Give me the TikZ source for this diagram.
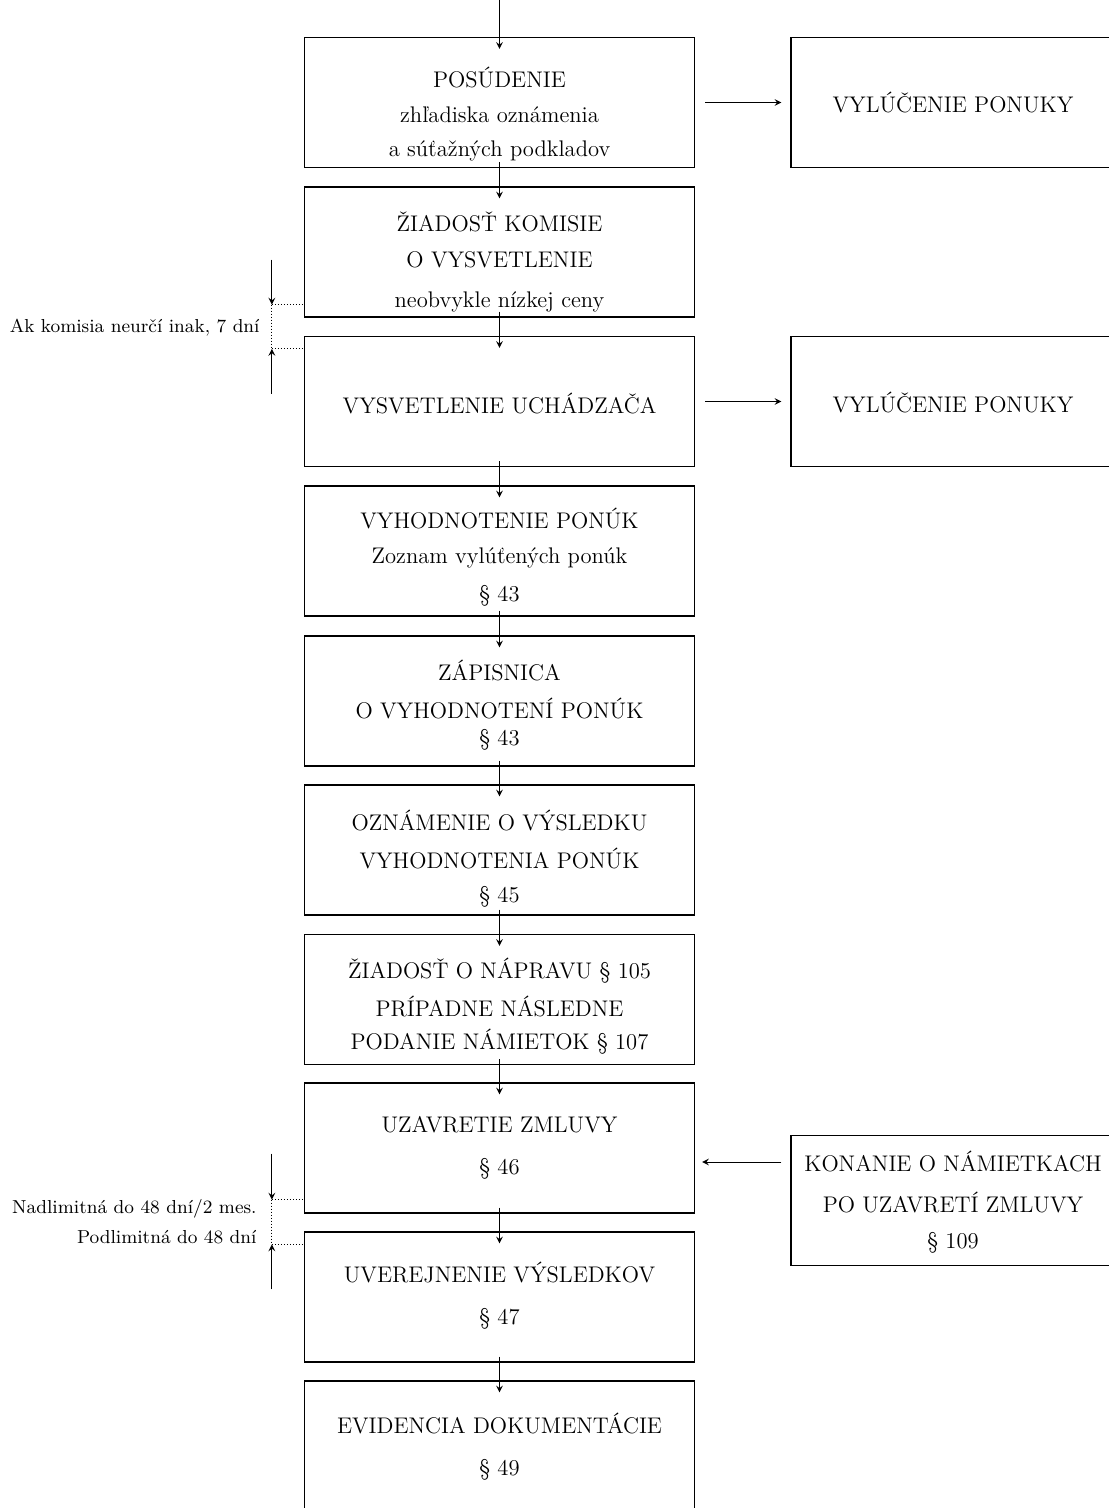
\documentclass[tikz,border=0pt]{standalone}
\usetikzlibrary{positioning}
\tikzset{
  stage/.style={draw, line width=0.6pt, minimum width=195pt, minimum height=65pt, align=center, inner sep=0pt,
    font=\fontsize{11.3}{13.5}\selectfont, text depth=0pt, text height=#1},
  stage/.default=11.5pt,
  sidebox/.style={stage=#1, minimum width=162pt},
  sidebox/.default=10.5pt,
  note/.style={font=\fontsize{9.4}{11.5}\selectfont, align=right, anchor=base east, inner sep=0pt},
}
\begin{document}
\begin{tikzpicture}[x=0.5pt, y=-0.5pt]
      \useasboundingbox (0,0) rectangle (1108,1508);
      \coordinate (vstup) at (499.5,0);
      \draw
        (499.5,102.5) node[stage=54.5pt] (posudenie){POSÚDENIE\\[4pt] zhľadiska oznámenia\\[3.5pt] a súťažných podkladov}
        (499.5,252) node[stage=55pt] (ziadost){ŽIADOSŤ KOMISIE\\[4pt] O VYSVETLENIE\\[6.5pt] neobvykle nízkej ceny}
        (499.5,401.5) node[stage] (vysvetlenie){VYSVETLENIE UCHÁDZAČA}
        (499.5,551) node[stage=50pt] (vyhodnotenie){VYHODNOTENIE PONÚK\\[4pt] Zoznam vylúťených ponúk\\[5.5pt] \S\ 43}
        (499.5,701) node[stage=44pt] (zapisnica){ZÁPISNICA\\[5.5pt] O VYHODNOTENÍ PONÚK\\[0pt] \S\ 43}
        (499.5,850) node[stage=52pt] (oznamenie){OZNÁMENIE O VÝSLEDKU\\[5.75pt] VYHODNOTENIA PONÚK\\[3.25pt] \S\ 45}
        (499.5,999.5) node[stage=49.5pt] (naprava){ŽIADOSŤ O NÁPRAVU \S\ 105\\[5.75pt] PRÍPADNE NÁSLEDNE\\[2.75pt] PODANIE NÁMIETOK \S\ 107}
        (499.5,1148) node[stage=26.5pt] (uzavretie){UZAVRETIE ZMLUVY\\[7.5pt] \S\ 46}
        (499.5,1297) node[stage=27.5pt] (uverejnenie){UVEREJNENIE VÝSLEDKOV\\[7.5pt] \S\ 47}
        (499.5,1446) node[stage=29pt] (evidencia){EVIDENCIA DOKUMENTÁCIE\\[7.5pt] \S\ 49}
        (953,102.5) node[sidebox] (vylucenieA){VYLÚČENIE PONUKY}
        (953,401.5) node[sidebox] (vylucenieB){VYLÚČENIE PONUKY}
        (953,1200.5) node[sidebox=47.5pt] (konanie){KONANIE O NÁMIETKACH\\[7pt] PO UZAVRETÍ ZMLUVY\\[4.5pt] \S\ 109};
      \begin{scope}[->, >=stealth, line width=0.5pt]
        \draw (vstup) to ([yshift=-6pt]posudenie.north);
        \draw ([yshift=3pt]posudenie.south) to ([yshift=-6pt]ziadost.north);
        \draw ([yshift=3pt]ziadost.south) to ([yshift=-6pt]vysvetlenie.north);
        \draw ([yshift=3pt]vysvetlenie.south) to ([yshift=-6pt]vyhodnotenie.north);
        \draw ([yshift=3pt]vyhodnotenie.south) to ([yshift=-6pt]zapisnica.north);
        \draw ([yshift=3pt]zapisnica.south) to ([yshift=-6pt]oznamenie.north);
        \draw ([yshift=3pt]oznamenie.south) to ([yshift=-6pt]naprava.north);
        \draw ([yshift=3pt]naprava.south) to ([yshift=-6pt]uzavretie.north);
        \draw ([yshift=3pt]uzavretie.south) to ([yshift=-6pt]uverejnenie.north);
        \draw ([yshift=3pt]uverejnenie.south) to ([yshift=-6pt]evidencia.north);
        \draw ([xshift=5pt]posudenie.east) to ([xshift=-4.5pt]vylucenieA.west);
        \draw ([xshift=5pt]vysvetlenie.east) to ([xshift=-4.5pt]vylucenieB.west);
        \coordinate (kz) at ([xshift=-4.5pt,yshift=19.25pt]konanie.west);
        \draw (kz) to ([xshift=3.5pt]uzavretie.east |- kz);
      \end{scope}
      % lehota na vysvetlenie
      \coordinate (lhA) at ([yshift=6.5pt]ziadost.south west);
      \coordinate (lhB) at ([yshift=-6.5pt]vysvetlenie.north west);
      \coordinate (kA) at ([xshift=-16pt]lhA);
      \coordinate (kB) at ([xshift=-16pt]lhB);
      \begin{scope}[line width=0.5pt]
        \draw[->, >=stealth] ([yshift=22.5pt]kA) to (kA);
        \draw[->, >=stealth] ([yshift=-22.5pt]kB) to (kB);
        \draw[densely dotted] (kA) to (kB);
        \draw[densely dotted] (kA) to (lhA);
        \draw[densely dotted] (kB) to (lhB);
      \end{scope}
      \node[note] (lehotaA) at (260,333) {Ak komisia neurčí inak, 7 dní};
      % lehota na uverejnenie
      \coordinate (lhC) at ([yshift=7pt]uzavretie.south west);
      \coordinate (lhD) at ([yshift=-6.5pt]uverejnenie.north west);
      \coordinate (kC) at ([xshift=-16pt]lhC);
      \coordinate (kD) at ([xshift=-16pt]lhD);
      \begin{scope}[line width=0.5pt]
        \draw[->, >=stealth] ([yshift=23pt]kC) to (kC);
        \draw[->, >=stealth] ([yshift=-22.5pt]kD) to (kD);
        \draw[densely dotted] (kC) to (kD);
        \draw[densely dotted] (kC) to (lhC);
        \draw[densely dotted] (kD) to (lhD);
      \end{scope}
      \node[note] (lehotaB) at (257,1243) {Nadlimitná do 48 dní/2 mes.\\[3.5pt] Podlimitná do 48 dní};
    \end{tikzpicture}
\end{document}
